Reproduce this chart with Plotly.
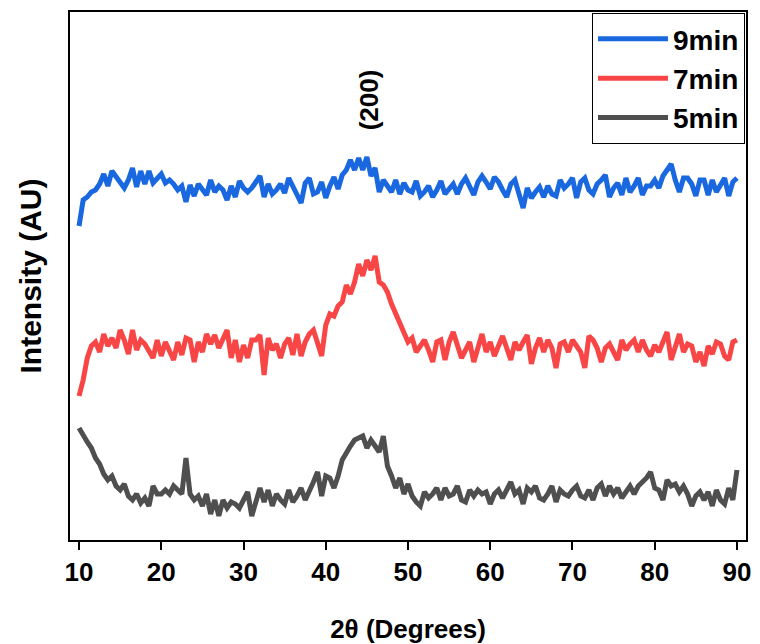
import plotly.graph_objects as go

# 2-theta grid start/step (degrees)
theta_start = 10.0
theta_step = 0.5

# Intensities (arbitrary units), 10..90 deg in 0.5 deg steps
i_9min = [
    314, 340, 343, 348, 350, 356, 366, 354, 369, 363,  # 10.0-14.5
    358, 352, 360, 372, 353, 369, 356, 369, 357, 362,  # 15.0-19.5
    366, 357, 360, 356, 350, 354, 338, 355, 344, 356,  # 20.0-24.5
    350, 345, 360, 348, 354, 350, 340, 354, 343, 359,  # 25.0-29.5
    352, 348, 352, 358, 364, 343, 356, 346, 350, 356,  # 30.0-34.5
    347, 362, 354, 344, 337, 357, 362, 346, 348, 358,  # 35.0-39.5
    342, 354, 363, 351, 365, 370, 380, 370, 382, 370,  # 40.0-44.5
    383, 364, 372, 348, 360, 354, 348, 360, 346, 357,  # 45.0-49.5
    350, 348, 359, 344, 348, 354, 343, 350, 359, 346,  # 50.0-54.5
    352, 356, 346, 356, 362, 352, 345, 358, 364, 358,  # 55.0-59.5
    351, 363, 358, 350, 343, 356, 360, 346, 332, 352,  # 60.0-64.5
    342, 348, 353, 343, 354, 346, 344, 360, 352, 356,  # 65.0-69.5
    362, 342, 358, 362, 350, 346, 356, 360, 365, 343,  # 70.0-74.5
    352, 357, 345, 362, 348, 354, 362, 345, 354, 354,  # 75.0-79.5
    360, 352, 364, 370, 376, 360, 348, 362, 362, 356,  # 80.0-84.5
    344, 360, 360, 345, 360, 348, 356, 362, 344, 358,  # 85.0-89.5
    362,                                               # 90.0
]

i_7min = [
    144, 160, 182, 194, 198, 188, 206, 194, 202, 192,  # 10.0-14.5
    210, 200, 186, 210, 190, 200, 196, 188, 182, 200,  # 15.0-19.5
    184, 198, 190, 180, 198, 185, 202, 200, 178, 198,  # 20.0-24.5
    188, 206, 196, 205, 192, 200, 210, 182, 200, 178,  # 25.0-29.5
    195, 182, 200, 200, 205, 165, 202, 190, 196, 182,  # 30.0-34.5
    196, 202, 185, 206, 184, 198, 206, 210, 195, 184,  # 35.0-39.5
    215, 226, 224, 234, 238, 255, 246, 258, 276, 264,  # 40.0-44.5
    280, 270, 284, 258, 255, 248, 236, 226, 216, 208,  # 45.0-49.5
    198, 202, 188, 194, 200, 190, 178, 198, 200, 180,  # 50.0-54.5
    198, 208, 194, 182, 190, 198, 178, 192, 206, 188,  # 55.0-59.5
    198, 184, 194, 204, 192, 180, 198, 190, 198, 205,  # 60.0-64.5
    176, 192, 202, 188, 200, 192, 172, 196, 198, 188,  # 65.0-69.5
    200, 194, 188, 172, 204, 200, 192, 178, 192, 196,  # 70.0-74.5
    188, 180, 200, 190, 196, 200, 188, 200, 190, 184,  # 75.0-79.5
    195, 188, 198, 208, 180, 192, 206, 188, 196, 194,  # 80.0-84.5
    178, 188, 174, 194, 186, 198, 196, 184, 180, 198,  # 85.0-89.5
    200,                                               # 90.0
]

i_5min = [
    112, 104, 98, 92, 82, 76, 66, 60, 64, 54,          # 10.0-14.5
    50, 56, 44, 40, 46, 37, 42, 34, 54, 46,            # 15.0-19.5
    46, 50, 46, 54, 50, 46, 82, 46, 40, 44,            # 20.0-24.5
    34, 46, 26, 40, 24, 40, 32, 38, 36, 32,            # 25.0-29.5
    40, 48, 24, 40, 52, 38, 50, 34, 46, 40,            # 30.0-34.5
    36, 50, 38, 44, 52, 40, 48, 58, 68, 44,            # 35.0-39.5
    64, 62, 52, 64, 80, 88, 94, 100, 102, 104,         # 40.0-44.5
    92, 100, 94, 88, 104, 74, 64, 52, 62, 46,          # 45.0-49.5
    56, 44, 38, 34, 48, 42, 46, 52, 40, 52,            # 50.0-54.5
    44, 46, 54, 40, 38, 50, 44, 50, 46, 48,            # 55.0-59.5
    36, 46, 50, 42, 50, 58, 46, 50, 36, 52,            # 60.0-64.5
    48, 54, 42, 40, 46, 54, 38, 50, 46, 44,            # 65.0-69.5
    50, 54, 44, 42, 50, 40, 52, 56, 44, 54,            # 70.0-74.5
    46, 52, 42, 48, 54, 46, 54, 58, 62, 68,            # 75.0-79.5
    52, 50, 40, 60, 54, 56, 48, 54, 46, 34,            # 80.0-84.5
    44, 48, 40, 48, 34, 50, 40, 36, 52, 40,            # 85.0-89.5
    70,                                                # 90.0
]

series_names = ["9min", "7min", "5min"]
series_values = [i_9min, i_7min, i_5min]
series_colors = ["#1a68e0", "#f84646", "#4f4f4f"]

x_ticks = [10, 20, 30, 40, 50, 60, 70, 80, 90]
peak_label = "(200)"
peak_theta = 45.3
peak_label_y = 440

FONT = "Liberation Sans, Arial, sans-serif"

fig = go.Figure()
for name, vals, col in zip(series_names, series_values, series_colors):
    theta = [theta_start + theta_step * i for i in range(len(vals))]
    fig.add_trace(go.Scatter(
        x=theta, y=vals, mode="lines", name="<b>%s</b>" % name,
        line=dict(color=col, width=5),
    ))

fig.add_annotation(
    x=peak_theta, y=peak_label_y, xref="x", yref="y",
    text="<b>%s</b>" % peak_label, showarrow=False, textangle=-90,
    font=dict(family=FONT, size=26, color="black"),
)

fig.update_layout(
    width=760, height=644,
    margin=dict(l=70, r=12, t=12, b=104),
    paper_bgcolor="white", plot_bgcolor="white",
    font=dict(family=FONT, color="black"),
    showlegend=True,
    legend=dict(
        x=0.9985, y=0.998, xanchor="right", yanchor="top",
        bordercolor="black", borderwidth=1, bgcolor="white",
        font=dict(family=FONT, size=28, color="black"),
        itemwidth=70,
    ),
    xaxis=dict(
        range=[8.9, 91.1], tickmode="array", tickvals=x_ticks,
        ticktext=["<b>%d</b>" % t for t in x_ticks],
        tickfont=dict(family=FONT, size=26, color="black"),
        ticks="outside", ticklen=8, tickwidth=1.5, tickcolor="black",
        showline=True, linecolor="black", linewidth=1.5, mirror=True,
        showgrid=False, zeroline=False, automargin=False,
        title=dict(text="<b>2θ (Degrees)</b>", font=dict(family=FONT, size=26, color="black"), standoff=36),
    ),
    yaxis=dict(
        range=[0, 528], showticklabels=False, ticks="",
        showline=True, linecolor="black", linewidth=1.5, mirror=True,
        showgrid=False, zeroline=False,
        title=dict(text="<b>Intensity (AU)</b>", font=dict(family=FONT, size=30, color="black"), standoff=18),
    ),
)

fig.write_html("out.html")
